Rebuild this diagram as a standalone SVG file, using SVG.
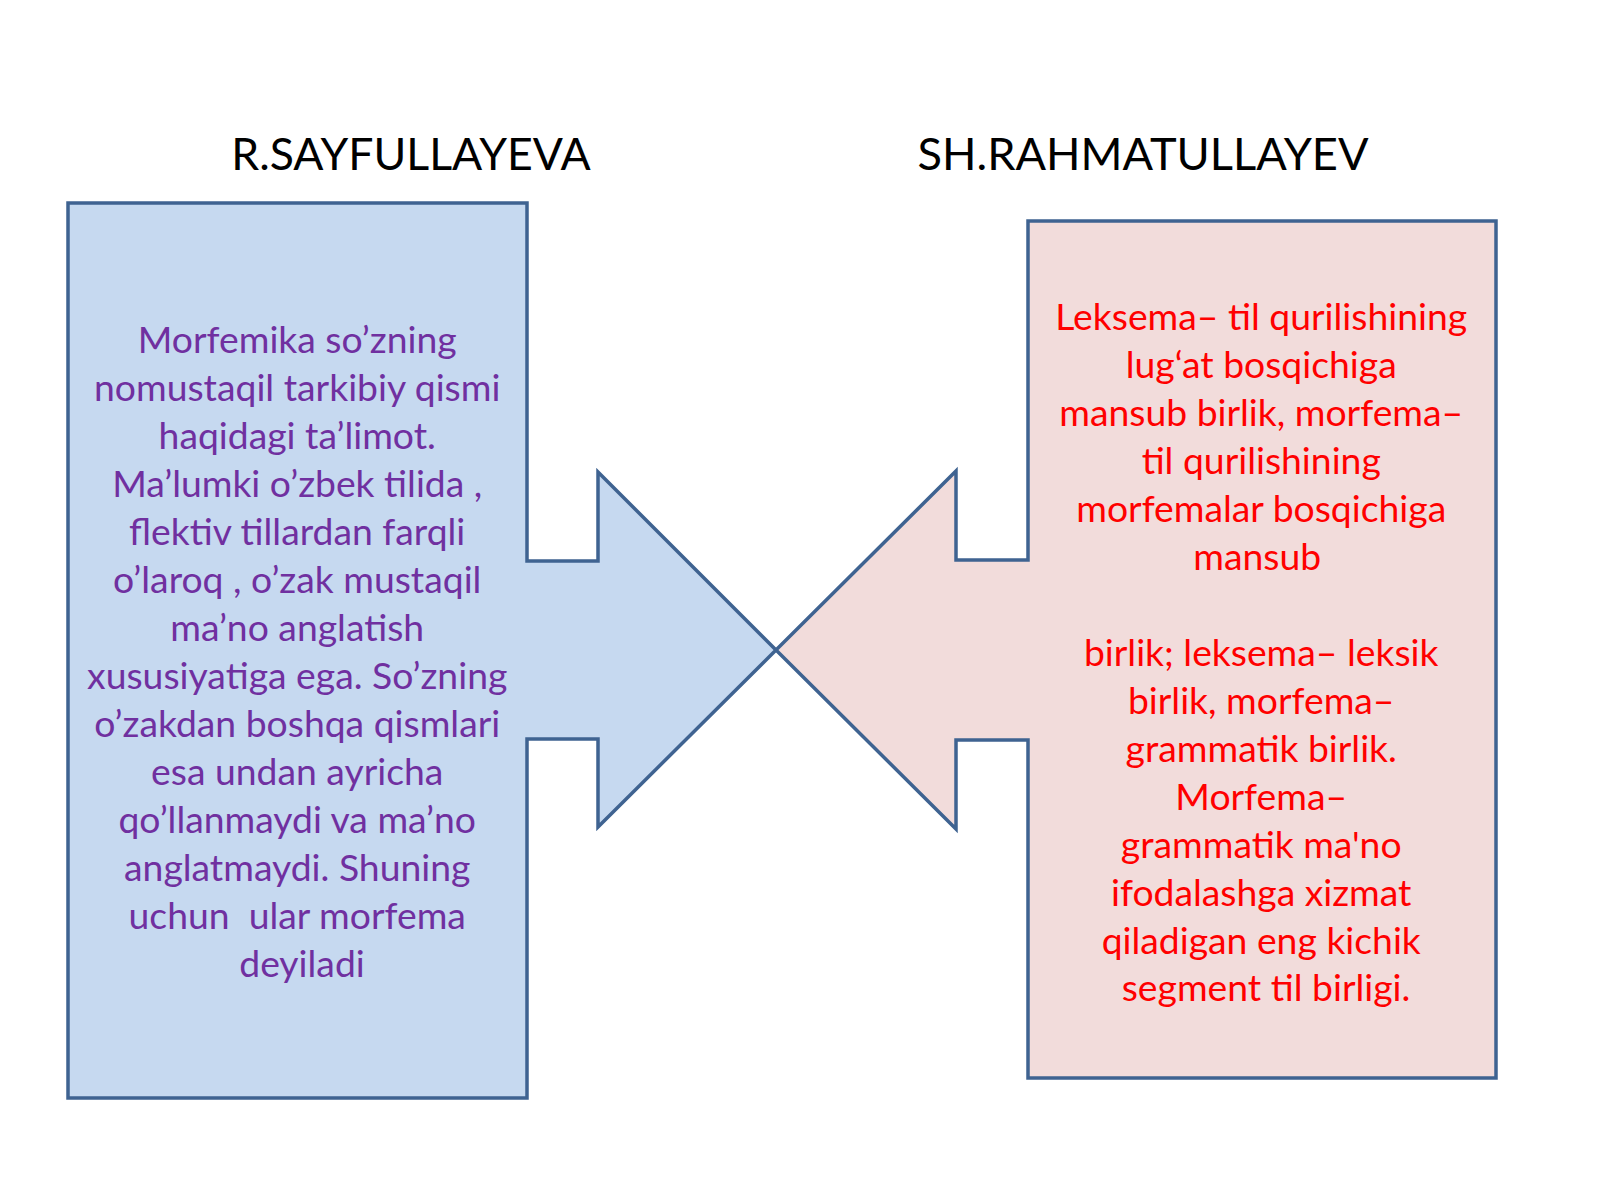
<svg xmlns="http://www.w3.org/2000/svg" width="1600" height="1200" viewBox="0 0 1600 1200">
<style>
.title{font-family:Lato,"Liberation Sans",sans-serif;font-size:44.6px;fill:#000;text-anchor:middle}
.title2{font-size:45.2px}
.body{font-family:Lato,"Liberation Sans",sans-serif;font-size:37.3px;text-anchor:middle}
.purple{fill:#7030A0}
.red{fill:#FF0000}
.shape{stroke:#3F6391;stroke-width:3.5;stroke-linejoin:miter}
</style>
<rect width="1600" height="1200" fill="#ffffff"/>
<g id="title-left"><text class="title" x="411" y="170">R.SAYFULLAYEVA</text></g>
<g id="title-right"><text class="title title2" x="1143" y="170">SH.RAHMATULLAYEV</text></g>
<g id="node-left">
<polygon class="shape" fill="#C6D9F0" points="68,203 527,203 527,561 598,561 598,472 776,650 598,827 598,739 527,739 527,1098 68,1098"/>
<text class="body purple" x="302">
<tspan x="302" y="353">Morfemika so’zning</tspan>
<tspan x="302" y="401">nomustaqil tarkibiy qismi</tspan>
<tspan x="302" y="449">haqidagi ta’limot.</tspan>
<tspan x="302" y="497">Ma’lumki o’zbek tilida ,</tspan>
<tspan x="302" y="545">flektiv tillardan farqli</tspan>
<tspan x="302" y="593">o’laroq , o’zak mustaqil</tspan>
<tspan x="302" y="641">ma’no anglatish</tspan>
<tspan x="302" y="689">xususiyatiga ega. So’zning</tspan>
<tspan x="302" y="737">o’zakdan boshqa qismlari</tspan>
<tspan x="302" y="785">esa undan ayricha</tspan>
<tspan x="302" y="833">qo’llanmaydi va ma’no</tspan>
<tspan x="302" y="881">anglatmaydi. Shuning</tspan>
<tspan x="302" y="929" xml:space="preserve">uchun  ular morfema</tspan>
<tspan x="302" y="977">deyiladi</tspan>
</text>
</g>
<g id="node-right">
<polygon class="shape" fill="#F2DCDB" points="1496,221 1028,221 1028,560 956,560 956,471 776,650 956,829 956,740 1028,740 1028,1078 1496,1078"/>
<text class="body red" x="1266">
<tspan x="1266" y="330">Leksema– til qurilishining</tspan>
<tspan x="1266" y="378">lug‘at bosqichiga</tspan>
<tspan x="1266" y="426">mansub birlik, morfema–</tspan>
<tspan x="1266" y="474">til qurilishining</tspan>
<tspan x="1266" y="522">morfemalar bosqichiga</tspan>
<tspan x="1262" y="570">mansub</tspan>
<tspan x="1266" y="666">birlik; leksema– leksik</tspan>
<tspan x="1266" y="714">birlik, morfema–</tspan>
<tspan x="1266" y="762">grammatik birlik.</tspan>
<tspan x="1266" y="810">Morfema–</tspan>
<tspan x="1266" y="858">grammatik ma'no</tspan>
<tspan x="1266" y="906">ifodalashga xizmat</tspan>
<tspan x="1266" y="954">qiladigan eng kichik</tspan>
<tspan x="1266" y="1001">segment til birligi.</tspan>
</text>
</g>
<g id="connectors"></g>
</svg>
